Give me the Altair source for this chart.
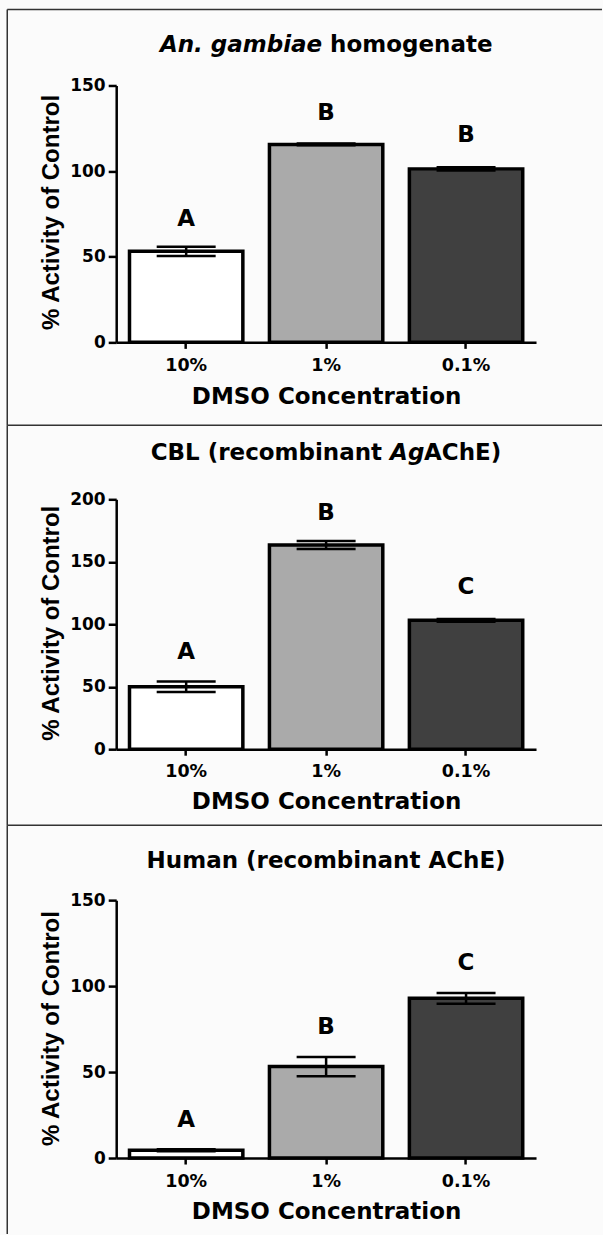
import altair as alt
import pandas as pd

concentrations = ["10%", "1%", "0.1%"]
bar_colors = ["#ffffff", "#aaaaaa", "#404040"]

homog_mean = [53.2, 115.6, 101.3]
homog_sem = [2.7, 0.5, 1.0]
homog_letters = ["A", "B", "B"]
homog_letter_y = [72.2, 133.8, 120.8]

cbl_mean = [49.9, 163.4, 103.1]
cbl_sem = [4.2, 3.2, 1.2]
cbl_letters = ["A", "B", "C"]
cbl_letter_y = [77.4, 188.8, 130.0]

human_mean = [4.5, 53.2, 92.9]
human_sem = [0.6, 5.6, 3.1]
human_letters = ["A", "B", "C"]
human_letter_y = [21.9, 76.3, 113.2]

ticks_150 = [0, 50, 100, 150]
ticks_200 = [0, 50, 100, 150, 200]

FONT = "DejaVu Sans"
W = 420
one = pd.DataFrame({"k": [0]})


def panel(mean, sem, letters, letter_y, ymax, ticks, height, yrange,
          titles, frame, lab_y, title_y, ytitle_y):
    df = pd.DataFrame({
        "conc": concentrations,
        "mean": mean,
        "lo": [m - s for m, s in zip(mean, sem)],
        "hi": [m + s for m, s in zip(mean, sem)],
        "letter": letters,
        "ly": letter_y,
    })
    base = alt.Chart(df)
    x_axis = alt.Axis(
        title="DMSO Concentration", labelAngle=0, labelFont=FONT,
        labelFontSize=17.5, labelFontWeight="bold", labelColor="black",
        labelBaseline="alphabetic", labelPadding=lab_y - 6, tickSize=6,
        tickWidth=2.5, tickColor="black", domainColor="black",
        domainWidth=2.5, titleFont=FONT, titleFontSize=23,
        titleFontWeight="bold", titleColor="black",
        titleBaseline="alphabetic", titleY=title_y, titleX=W / 2)
    x = alt.X("conc:N", sort=concentrations,
              scale=alt.Scale(paddingInner=0.19, paddingOuter=0.095),
              axis=x_axis)
    if yrange is None:
        yscale = alt.Scale(domain=[0, ymax], nice=False)
    else:
        yscale = alt.Scale(domain=[0, ymax], nice=False, range=yrange)
    y_axis = alt.Axis(
        title="% Activity of Control", values=ticks, grid=False,
        labelFont=FONT, labelFontSize=17, labelFontWeight="bold",
        labelColor="black", labelPadding=3, tickSize=8, tickWidth=2.5,
        tickColor="black", domainColor="black", domainWidth=2.5,
        titleFont="Liberation Sans", titleFontSize=24,
        titleFontWeight="bold", titleColor="black", titleAngle=270,
        titleBaseline="alphabetic", titleX=-57.5, titleY=ytitle_y)

    def Y(field):
        return alt.Y(field, scale=yscale, axis=y_axis)

    bars = base.mark_bar(stroke="black", strokeWidth=3.5).encode(
        x=x, y=Y("mean:Q"),
        color=alt.Color("conc:N", scale=alt.Scale(domain=concentrations,
                                                  range=bar_colors),
                        legend=None))
    err = base.mark_rule(color="black", strokeWidth=2.5).encode(
        x=x, y=Y("lo:Q"), y2="hi:Q")
    cap_lo = base.mark_tick(color="black", thickness=2.5, size=59,
                            opacity=1).encode(x=x, y=Y("lo:Q"))
    cap_hi = base.mark_tick(color="black", thickness=2.5, size=59,
                            opacity=1).encode(x=x, y=Y("hi:Q"))
    lett = base.mark_text(font=FONT, fontSize=23, fontWeight="bold",
                          color="black", baseline="middle").encode(
        x=x, y=Y("ly:Q"), text="letter:N")

    layers = [bars, err, cap_lo, cap_hi, lett]
    for (t, px, py, align, italic) in titles:
        layers.append(alt.Chart(one).mark_text(
            font=FONT, fontSize=23, fontWeight="bold",
            fontStyle="italic" if italic else "normal", color="black",
            align=align, baseline="alphabetic").encode(
            x=alt.value(px), y=alt.value(py), text=alt.value(t)))
    top, bottom = frame
    layers.append(alt.Chart(one).mark_rule(color="#333333", strokeWidth=1.5).encode(
        x=alt.value(-109), x2=alt.value(486), y=alt.value(top)))
    layers.append(alt.Chart(one).mark_rule(color="#333333", strokeWidth=1.5).encode(
        x=alt.value(-109), y=alt.value(top), y2=alt.value(bottom)))
    return alt.layer(*layers).properties(width=W, height=height)


p1 = panel(homog_mean, homog_sem, homog_letters, homog_letter_y, 150,
           ticks_150, 257, None,
           [("An. gambiae", 206, -33.5, "right", True),
            ("homogenate", 214, -33.5, "left", False)],
           (-76, 340), 28, 61, 126.5)
p2 = panel(cbl_mean, cbl_sem, cbl_letters, cbl_letter_y, 200,
           ticks_200, 256, [256, 6],
           [("CBL (recombinant", 266, -33, "right", False),
            ("Ag", 274, -33, "left", True),
            ("AChE)", 308, -33, "left", False)],
           (-68, 332), 27, 59, 129.5)
p3 = panel(human_mean, human_sem, human_letters, human_letter_y, 150,
           ticks_150, 258, None,
           [("Human (recombinant AChE)", W / 2, -32, "center", False)],
           (-75, 334), 28, 60, 128)

chart = alt.vconcat(p1, p2, p3, spacing=151, bounds="flush").properties(
    padding={"left": 6.25, "top": 8.25, "right": 0, "bottom": 0},
    background="#fbfbfb",
).configure_view(stroke=None)

chart.save("out.html", embed_options={"renderer": "svg", "actions": False})
